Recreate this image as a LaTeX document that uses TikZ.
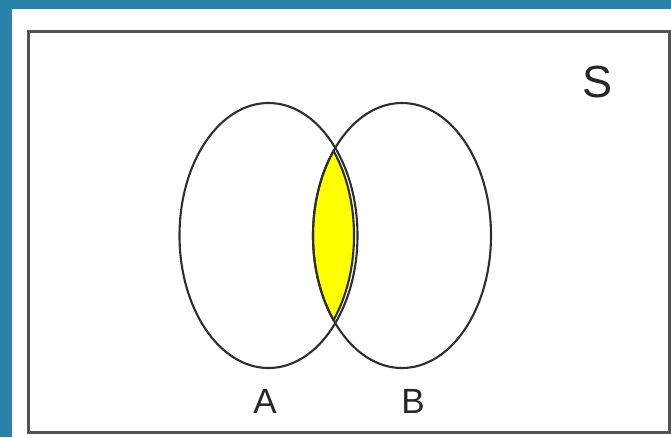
\documentclass[tikz,border=0pt]{standalone}
\usepackage{fontspec}
\usetikzlibrary{shapes.geometric}
\setmainfont{Liberation Sans}
\definecolor{bgblue}{RGB}{40,130,170}
\definecolor{lensyellow}{RGB}{255,255,0}
\begin{document}
\begin{tikzpicture}[x=1pt,y=-1pt,
  setline/.style={draw=black!82, line width=2.1pt},
  setnode/.style={ellipse, draw=black!82, line width=2.1pt, inner sep=0pt, minimum width=178pt, minimum height=265pt},
  frameline/.style={draw=black!68, line width=3pt},
  lbl/.style={inner sep=0pt, font=\fontsize{35}{35}\selectfont, text=black!85}]
\useasboundingbox (0,0) rectangle (671,437);
\fill[bgblue] (0,0) rectangle (671,437);
\fill[white] (12,9) rectangle (671,437);
\draw[frameline] (28,31) rectangle (669,432);
% lens (intersection), slightly inset on the right
\begin{scope}
  \clip (265,235.5) ellipse [x radius=89, y radius=132.5];
  \fill[lensyellow] (402,235.5) ellipse [x radius=89, y radius=132.5];
\end{scope}
\begin{scope}
  \clip (265,235.5) ellipse [x radius=89, y radius=132.5];
  \draw[setline] (402,235.5) ellipse [x radius=89, y radius=132.5];
\end{scope}
\begin{scope}
  \clip (402,235.5) ellipse [x radius=89, y radius=132.5];
  \draw[setline] (265,235.5) ellipse [x radius=89, y radius=132.5];
\end{scope}
\node[setnode] (setA) at (268.5,235.5) {};
\node[setnode] (setB) at (402,235.5) {};
\node[lbl] (labA) at (265,401) {A};
\node[lbl] (labB) at (413,401) {B};
\node[lbl, font=\fontsize{45}{45}\selectfont] (labS) at (597,82) {S};
\end{tikzpicture}
\end{document}
